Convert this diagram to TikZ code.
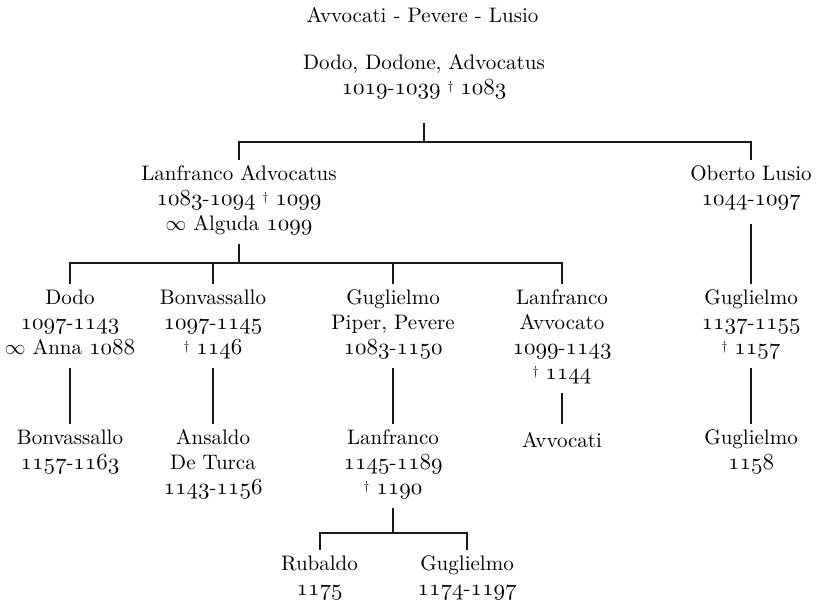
\documentclass[tikz,border=0pt]{standalone}
\usepackage{amsmath}
\usepackage{amssymb}
\usepackage{xcolor}
\usepackage{fontspec}
\setmainfont{lmroman10-regular}[Extension=.otf]
\usepackage{tikz}
\usetikzlibrary{positioning}

\font\osfnum=cmmi10 at 23pt
\newcommand{\yr}[1]{{\osfnum #1}}
\newcommand{\dead}{\raisebox{0.45ex}{\fontsize{13}{13}\selectfont\textdagger}}

\begin{document}
\begin{tikzpicture}[x=1pt,y=-1pt,
  person/.style={anchor=north, align=center, inner xsep=2pt, inner ysep=6pt,
    text=black, font=\fontsize{21}{25}\selectfont,
    execute at begin node=\strut, execute at end node=\strut},
  branch/.style={draw=black!90, line width=2pt}]
\useasboundingbox (0,0) rectangle (818,608);

\node[person] (title) at (422.5,-1.5) {Avvocati - Pevere - Lusio};
\node[person] (dodo) at (424,48.5) {Dodo, Dodone, Advocatus\\ \yr{1019}-\yr{1039} \dead\ \yr{1083}};

\node[person] (lanfranco) at (239,159.5) {Lanfranco Advocatus\\ \yr{1083}-\yr{1094} \dead\ \yr{1099}\\ $\infty$ Alguda \yr{1099}};
\node[person] (oberto) at (751,159.5) {Oberto Lusio\\ \yr{1044}-\yr{1097}};

\node[person] (dodoII) at (70,283.5) {Dodo\\ \yr{1097}-\yr{1143}\\ $\infty$ Anna \yr{1088}};
\node[person] (bonvassallo) at (213,283.5) {Bonvassallo\\ \yr{1097}-\yr{1145}\\ \dead\ \yr{1146}};
\node[person] (guglielmo) at (393,283.5) {Guglielmo\\ Piper, Pevere\\ \yr{1083}-\yr{1150}};
\node[person] (lanfrancoav) at (562,283.5) {Lanfranco\\ Avvocato\\ \yr{1099}-\yr{1143}\\ \dead\ \yr{1144}};
\node[person] (guglielmoL) at (751,283.5) {Guglielmo\\ \yr{1137}-\yr{1155}\\ \dead\ \yr{1157}};

\node[person] (bonvassalloII) at (70,423.5) {Bonvassallo\\ \yr{1157}-\yr{1163}};
\node[person] (ansaldo) at (213,423.5) {Ansaldo\\ De Turca\\ \yr{1143}-\yr{1156}};
\node[person] (lanfrancoII) at (393,423.5) {Lanfranco\\ \yr{1145}-\yr{1189}\\ \dead\ \yr{1190}};
\node[person] (avvocati) at (562,423.5) {Avvocati};
\node[person] (guglielmoLII) at (751,423.5) {Guglielmo\\ \yr{1158}};

\node[person] (rubaldo) at (319.5,549.5) {Rubaldo\\ \yr{1175}};
\node[person] (guglielmoII) at (467,549.5) {Guglielmo\\ \yr{1174}-\yr{1197}};

\coordinate (bartop) at (424,142);
\coordinate (barmid) at (239,263);
\coordinate (barlow) at (393,533);

% first generations
\draw[branch, shorten <=14.5pt] (dodo.south) -- (bartop);
\draw[branch] (lanfranco.north) |- (bartop) -| (oberto.north);

\draw[branch] (lanfranco.south) -- (barmid);
\draw[branch] (dodoII.north) |- (barmid) -| (lanfrancoav.north);
\draw[branch] (bonvassallo.north) -- (bonvassallo.north |- barmid);
\draw[branch] (guglielmo.north) -- (guglielmo.north |- barmid);
\draw[branch, shorten <=5pt] (oberto.south) -- (guglielmoL.north);

% next generations
\draw[branch] (dodoII.south) -- (bonvassalloII.north);
\draw[branch] (bonvassallo.south) -- (ansaldo.north);
\draw[branch] (guglielmo.south) -- (lanfrancoII.north);
\draw[branch] (lanfrancoav.south) -- (avvocati.north);
\draw[branch] (guglielmoL.south) -- (guglielmoLII.north);

\draw[branch] (lanfrancoII.south) -- (barlow);
\draw[branch] (rubaldo.north) |- (barlow) -| (guglielmoII.north);
\end{tikzpicture}
\end{document}
